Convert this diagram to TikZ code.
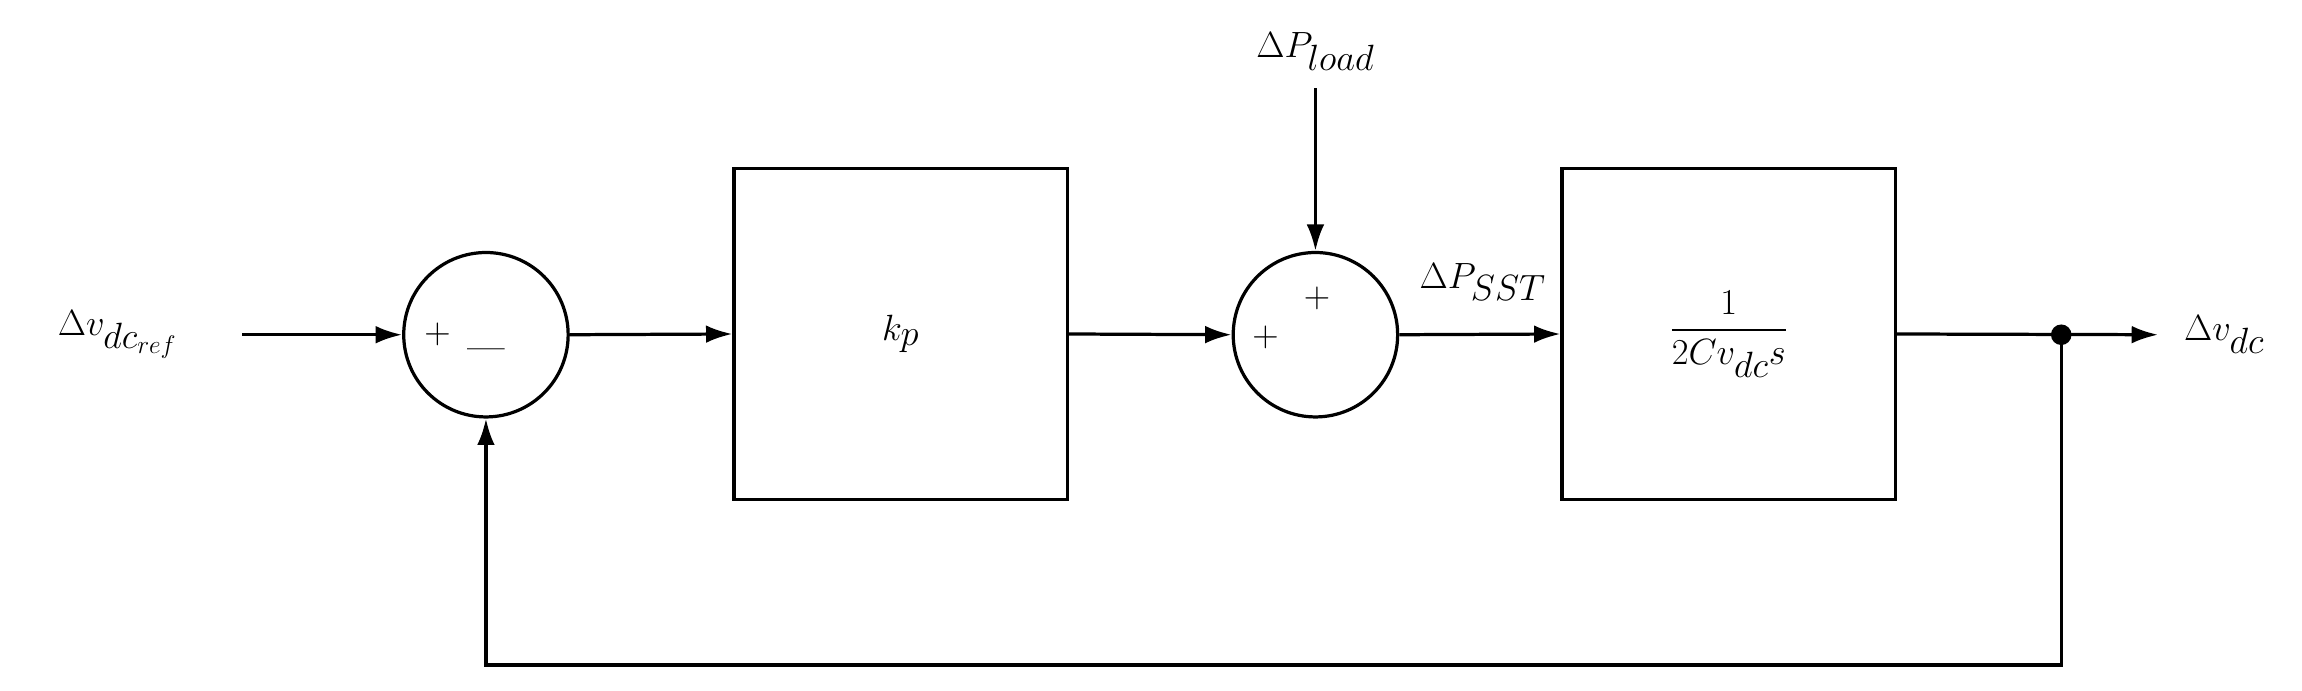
\documentclass[tikz,border=0pt]{standalone}
\usepackage{amsmath}
\usetikzlibrary{arrows.meta}
\begin{document}
\begin{tikzpicture}[x=1pt,y=-1pt,
  line width=2.2pt,
  blk/.style={draw,minimum width=227pt,minimum height=225pt,inner sep=0pt},
  sum/.style={draw,circle,minimum size=112pt,inner sep=0pt},
  arr/.style={-{Latex[length=18pt,width=12pt]}},
  lbl/.style={font=\fontsize{37}{44}\selectfont},
  sg/.style={font=\fontsize{37}{44}\selectfont,inner sep=0pt}]
\useasboundingbox (0,0) rectangle (1568,470);
\node[lbl] (in) at (80,228) {$\Delta v_{dc_{ref}}$};
\coordinate (inS) at (165,228);
\node[sum] (s1) at (331,228) {};
\node[sg] (s1a) at (298,228) {$+$};
\node[sg] (s1b) at (331,236) {$\_$};
\node[blk] (kp) at (613.5,227.5) {};
\node[lbl] (kpt) at (613.5,227.5) {$k_p$};
\node[sum] (s2) at (896,228) {};
\node[sg] (s2a) at (862,230) {$+$};
\node[sg] (s2b) at (897,203) {$+$};
\node[lbl] (pl) at (896,35) {$\Delta P_{load}$};
\coordinate (plS) at (896,60);
\node[blk] (g) at (1177.5,227.5) {};
\node[lbl] (gt) at (1177.5,227.5) {$\dfrac{1}{2Cv_{dc}s}$};
\node[lbl] (sst) at (1010,192) {$\Delta P_{SST}$};
\coordinate (dot) at (1404,228);
\coordinate (outE) at (1470,228);
\node[lbl] (out) at (1515,228) {$\Delta v_{dc}$};
\coordinate (fb1) at (1404,453);
\coordinate (fb2) at (331,453);
\draw[arr] (inS) -- (s1.west);
\draw[arr] (s1.east) -- (kp.west);
\draw[arr] (kp.east) -- (s2.west);
\draw[arr] (plS) -- (s2.north);
\draw[arr] (s2.east) -- (g.west);
\draw[arr] (g.east) -- (outE);
\fill (dot) circle (7pt);
\draw[arr] (dot) -- (fb1) -- (fb2) -- (s1.south);
\end{tikzpicture}
\end{document}
